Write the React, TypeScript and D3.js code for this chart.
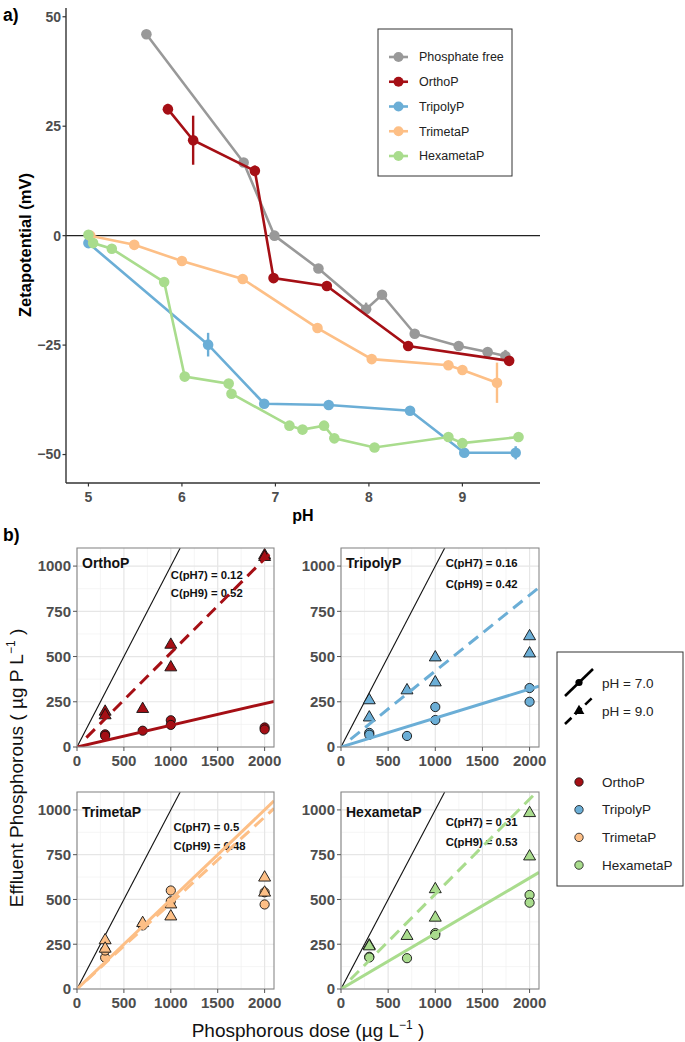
import * as d3 from "d3";

// ---- panel a: zeta potential vs pH ----
const seriesNames = ["Phosphate free", "OrthoP", "TripolyP", "TrimetaP", "HexametaP"];
const seriesColors = ["#999999", "#a50f15", "#6baed6", "#fdbf86", "#a9dc8d"];

const freePH = [5.62, 6.66, 6.99, 7.46, 7.97, 8.14, 8.49, 8.96, 9.27, 9.46];
const freeZeta = [46.0, 16.7, 0.0, -7.5, -16.8, -13.5, -22.4, -25.2, -26.6, -27.5];
const freeErr = [0.6, 0.5, 0.5, 0.6, 1.5, 0.6, 0.7, 0.6, 0.6, 1.4];

const orthoPH = [5.85, 6.12, 6.78, 6.98, 7.55, 8.42, 9.5];
const orthoZeta = [28.9, 21.8, 14.8, -9.7, -11.5, -25.2, -28.6];
const orthoErr = [1.2, 5.6, 1.2, 0.5, 0.6, 0.5, 0.8];

const tripolyPH = [5.0, 6.28, 6.88, 7.57, 8.44, 9.02, 9.57];
const tripolyZeta = [-1.7, -24.9, -38.4, -38.7, -40.0, -49.6, -49.6];
const tripolyErr = [0.5, 2.7, 0.5, 0.5, 0.6, 0.6, 1.5];

const trimetaPH = [5.02, 5.49, 6.0, 6.65, 7.45, 8.03, 8.85, 9.0, 9.37];
const trimetaZeta = [0.0, -2.1, -5.8, -9.9, -21.1, -28.2, -29.6, -30.7, -33.6];
const trimetaErr = [0.4, 0.5, 0.5, 0.5, 0.6, 0.6, 0.6, 0.6, 4.6];

const hexaPH = [5.0, 5.05, 5.25, 5.81, 6.03, 6.5, 6.53, 7.15, 7.29, 7.52, 7.63, 8.06, 8.85, 9.0, 9.6];
const hexaZeta = [0.2, -1.7, -3.0, -10.6, -32.2, -33.8, -36.1, -43.4, -44.3, -43.4, -46.3, -48.4, -46.0, -47.4, -46.0];
const hexaErr = [0.4, 0.4, 0.4, 0.5, 0.5, 0.5, 0.5, 0.5, 0.5, 0.8, 0.5, 0.5, 0.6, 0.5, 0.5];

const phTicks = [5, 6, 7, 8, 9];
const zetaTicks = [-50, -25, 0, 25, 50];

// ---- panel b: effluent vs dose ----
const facetNames = ["OrthoP", "TripolyP", "TrimetaP", "HexametaP"];
const facetColors = ["#a50f15", "#6baed6", "#fdbf86", "#a9dc8d"];
const slope7 = [0.12, 0.16, 0.5, 0.31];
const slope9 = [0.52, 0.42, 0.48, 0.53];
const slope7Label = ["0.12", "0.16", "0.5", "0.31"];
const slope9Label = ["0.52", "0.42", "0.48", "0.53"];

const doseLevels = [300, 300, 700, 1000, 1000, 2000, 2000];
const orthoP7 = [70, 62, 90, 148, 122, 108, 97];
const orthoP9 = [195, 175, 210, 565, 440, 1060, 1050];
const tripolyP7 = [78, 68, 61, 221, 149, 326, 250];
const tripolyP9 = [258, 163, 313, 495, 357, 612, 517];
const trimetaP7 = [175, 215, 355, 550, 490, 540, 472];
const trimetaP9 = [272, 225, 368, 472, 405, 622, 538];
const hexaP7 = [180, 176, 172, 312, 302, 525, 482];
const hexaP9 = [243, 238, 296, 557, 398, 982, 740];

// annotation positions (data units)
const annX = [1000, 1110, 1030, 1110];
const annY7 = [950, 1015, 905, 930];
const annY9 = [852, 903, 800, 818];
const titleY = [1015, 1015, 985, 985];

const doseTicks = [0, 500, 1000, 1500, 2000];
const doseMinor = [250, 750, 1250, 1750];
const effTicks = [0, 250, 500, 750, 1000];
const effMinor = [125, 375, 625, 875];

const FONT = "'Liberation Sans', Arial, Helvetica, sans-serif";
const TICK = "#4d4d4d";
const fmt = (v: number) => String(v).replace("-", "\u2212");

const App = () => {
  const topSeries = [
    { ph: freePH, z: freeZeta, e: freeErr },
    { ph: orthoPH, z: orthoZeta, e: orthoErr },
    { ph: tripolyPH, z: tripolyZeta, e: tripolyErr },
    { ph: trimetaPH, z: trimetaZeta, e: trimetaErr },
    { ph: hexaPH, z: hexaZeta, e: hexaErr },
  ];
  const facetData = [
    [orthoP7, orthoP9],
    [tripolyP7, tripolyP9],
    [trimetaP7, trimetaP9],
    [hexaP7, hexaP9],
  ];

  const x = d3.scaleLinear().domain([4.76, 9.83]).range([66, 540]);
  const y = d3.scaleLinear().domain([-56.5, 52]).range([483, 8]);
  const line = d3.line<[number, number]>().x((d) => x(d[0])).y((d) => y(d[1]));

  const panelX = [[77, 274], [341, 539]];
  const panelY = [[747, 548], [989, 792]];
  const tri = d3.symbol().type(d3.symbolTriangle).size(62)();
  const triKey = d3.symbol().type(d3.symbolTriangle).size(50)();

  return (
    <svg width={685} height={1042} style={{ position: "absolute", left: 0, top: 0 }} fontFamily={FONT}>
      <rect width={685} height={1042} fill="#fff" />
      {/* ---------- a) ---------- */}
      <text x={3} y={21} fontSize={17.5} fontWeight="bold">a)</text>
      <line x1={66} x2={540} y1={y(0)} y2={y(0)} stroke="#222" strokeWidth={1.3} />
      {topSeries.map((s, i) => {
        const pts = s.ph.map((p, j) => [p, s.z[j]] as [number, number]);
        return (
          <g key={i}>
            <path d={line(pts) || ""} fill="none" stroke={seriesColors[i]} strokeWidth={2.6} />
            {pts.map((p, j) => (
              <line key={"e" + j} x1={x(p[0])} x2={x(p[0])} y1={y(p[1] - s.e[j])} y2={y(p[1] + s.e[j])}
                stroke={seriesColors[i]} strokeWidth={2.4} />
            ))}
            {pts.map((p, j) => (
              <circle key={j} cx={x(p[0])} cy={y(p[1])} r={5.3} fill={seriesColors[i]} />
            ))}
          </g>
        );
      })}
      {/* axes */}
      <line x1={66} x2={66} y1={8} y2={483} stroke="#333" strokeWidth={1.4} />
      <line x1={66} x2={540} y1={483} y2={483} stroke="#333" strokeWidth={1.4} />
      {zetaTicks.map((t) => (
        <g key={t}>
          <line x1={62.5} x2={66} y1={y(t)} y2={y(t)} stroke="#333" strokeWidth={1.2} />
          <text x={61} y={y(t)} dy="0.35em" textAnchor="end" fontSize={14} fontWeight="bold" fill={TICK}>{fmt(t)}</text>
        </g>
      ))}
      {phTicks.map((t) => (
        <g key={t}>
          <line x1={x(t)} x2={x(t)} y1={483} y2={486.5} stroke="#333" strokeWidth={1.2} />
          <text x={x(t)} y={502} textAnchor="middle" fontSize={14} fontWeight="bold" fill={TICK}>{t}</text>
        </g>
      ))}
      <text x={303} y={521} textAnchor="middle" fontSize={16} fontWeight="bold">pH</text>
      <text transform={`translate(31,245) rotate(-90)`} textAnchor="middle" fontSize={16.5} fontWeight="bold">Zetapotential (mV)</text>
      {/* legend a */}
      <rect x={378} y={29} width={134} height={147} fill="#fff" stroke="#333" strokeWidth={1} />
      {seriesNames.map((n, i) => (
        <g key={n} transform={`translate(0,${57 + i * 24.75})`}>
          <line x1={389} x2={408} y1={0} y2={0} stroke={seriesColors[i]} strokeWidth={2.6} />
          <circle cx={398.5} cy={0} r={5} fill={seriesColors[i]} />
          <text x={419} y={0} dy="0.35em" fontSize={12.5} fill="#222">{n}</text>
        </g>
      ))}

      {/* ---------- b) ---------- */}
      <text x={3} y={541} fontSize={17.5} fontWeight="bold">b)</text>
      <defs>
        {facetNames.map((n, i) => {
          const [l, r] = panelX[i % 2];
          const [b, t] = panelY[Math.floor(i / 2)];
          return (
            <clipPath id={"clip" + i} key={n}>
              <rect x={l} y={t} width={r - l} height={b - t} />
            </clipPath>
          );
        })}
      </defs>
      {facetNames.map((n, i) => {
        const [l, r] = panelX[i % 2];
        const [b, t] = panelY[Math.floor(i / 2)];
        const sx = d3.scaleLinear().domain([0, 2100]).range([l, r]);
        const sy = d3.scaleLinear().domain([0, 1100]).range([b, t]);
        const col = facetColors[i];
        const [v7, v9] = facetData[i];
        return (
          <g key={n}>
            <rect x={l} y={t} width={r - l} height={b - t} fill="#fff" />
            {doseMinor.map((d) => (
              <line key={"mx" + d} x1={sx(d)} x2={sx(d)} y1={t} y2={b} stroke="#f0f0f0" strokeWidth={0.7} />
            ))}
            {effMinor.map((d) => (
              <line key={"my" + d} x1={l} x2={r} y1={sy(d)} y2={sy(d)} stroke="#f0f0f0" strokeWidth={0.7} />
            ))}
            {doseTicks.map((d) => (
              <line key={"gx" + d} x1={sx(d)} x2={sx(d)} y1={t} y2={b} stroke="#e6e6e6" strokeWidth={1.2} />
            ))}
            {effTicks.map((d) => (
              <line key={"gy" + d} x1={l} x2={r} y1={sy(d)} y2={sy(d)} stroke="#e6e6e6" strokeWidth={1.2} />
            ))}
            <g clipPath={`url(#clip${i})`}>
              <line x1={sx(0)} y1={sy(0)} x2={sx(1100)} y2={sy(1100)} stroke="#111" strokeWidth={1.1} />
              {doseLevels.map((d, j) => (
                <circle key={"c" + j} cx={sx(d)} cy={sy(v7[j])} r={4.6} fill={col} stroke="#111" strokeWidth={0.9} />
              ))}
              {doseLevels.map((d, j) => (
                <path key={"t" + j} d={tri || ""} transform={`translate(${sx(d)},${sy(v9[j])})`} fill={col} stroke="#111" strokeWidth={0.9} />
              ))}
              <text x={sx(annX[i])} y={sy(annY7[i])} dy="0.35em" fontSize={11.3} fontWeight="bold" fill="#111">{`C(pH7) = ${slope7Label[i]}`}</text>
              <text x={sx(annX[i])} y={sy(annY9[i])} dy="0.35em" fontSize={11.3} fontWeight="bold" fill="#111">{`C(pH9) = ${slope9Label[i]}`}</text>
              <line x1={sx(0)} y1={sy(0)} x2={sx(2100)} y2={sy(2100 * slope7[i])} stroke={col} strokeWidth={3} />
              <line x1={sx(100)} y1={sy(100 * slope9[i])} x2={sx(2100)} y2={sy(2100 * slope9[i])} stroke={col} strokeWidth={3} strokeDasharray="12,7" />
            </g>
            <text x={l + 5} y={sy(titleY[i])} dy="0.35em" fontSize={14} fontWeight="bold" fill="#111">{n}</text>
            <rect x={l} y={t} width={r - l} height={b - t} fill="none" stroke="#8a8a8a" strokeWidth={1.1} />
            {effTicks.map((d) => (
              <g key={"yt" + d}>
                <line x1={l - 4} x2={l} y1={sy(d)} y2={sy(d)} stroke="#555" strokeWidth={1} />
                <text x={l - 6} y={sy(d)} dy="0.36em" textAnchor="end" fontSize={15} fontWeight="bold" fill={TICK}>{d}</text>
              </g>
            ))}
            {doseTicks.map((d) => (
              <g key={"xt" + d}>
                <line x1={sx(d)} x2={sx(d)} y1={b} y2={b + 4} stroke="#555" strokeWidth={1} />
                <text x={sx(d)} y={b + 19} textAnchor="middle" fontSize={15} fontWeight="bold" fill={TICK}>{d}</text>
              </g>
            ))}
          </g>
        );
      })}
      <text transform={`translate(23,768) rotate(-90)`} textAnchor="middle" fontSize={19} fill="#111">
        Effluent Phosphorous ( µg P L<tspan dy={-8} fontSize={12}>−1</tspan><tspan dy={8}> )</tspan>
      </text>
      <text x={308} y={1037} textAnchor="middle" fontSize={19} fill="#111">
        Phosphorous dose (µg L<tspan dy={-8} fontSize={12}>−1</tspan><tspan dy={8}> )</tspan>
      </text>
      {/* legend b */}
      <rect x={557} y={652} width={126} height={234} fill="#fff" stroke="#333" strokeWidth={1} />
      <line x1={565} y1={696} x2={593} y2={669} stroke="#000" strokeWidth={2.6} />
      <circle cx={579} cy={682.5} r={3.6} fill="#000" />
      <line x1={565} y1={724} x2={593} y2={697} stroke="#000" strokeWidth={2.6} strokeDasharray="9,5" />
      <path d={triKey || ""} transform="translate(579,711)" fill="#000" />
      <text x={602} y={683} dy="0.35em" fontSize={13.5} fill="#222">pH = 7.0</text>
      <text x={602} y={711} dy="0.35em" fontSize={13.5} fill="#222">pH = 9.0</text>
      {facetNames.map((n, i) => (
        <g key={"lg" + n} transform={`translate(0,${782 + i * 27.7})`}>
          <circle cx={579} cy={0} r={4.2} fill={facetColors[i]} stroke="#111" strokeWidth={0.8} />
          <text x={602} y={0} dy="0.35em" fontSize={13.5} fill="#222">{n}</text>
        </g>
      ))}
    </svg>
  );
};

export default App;
